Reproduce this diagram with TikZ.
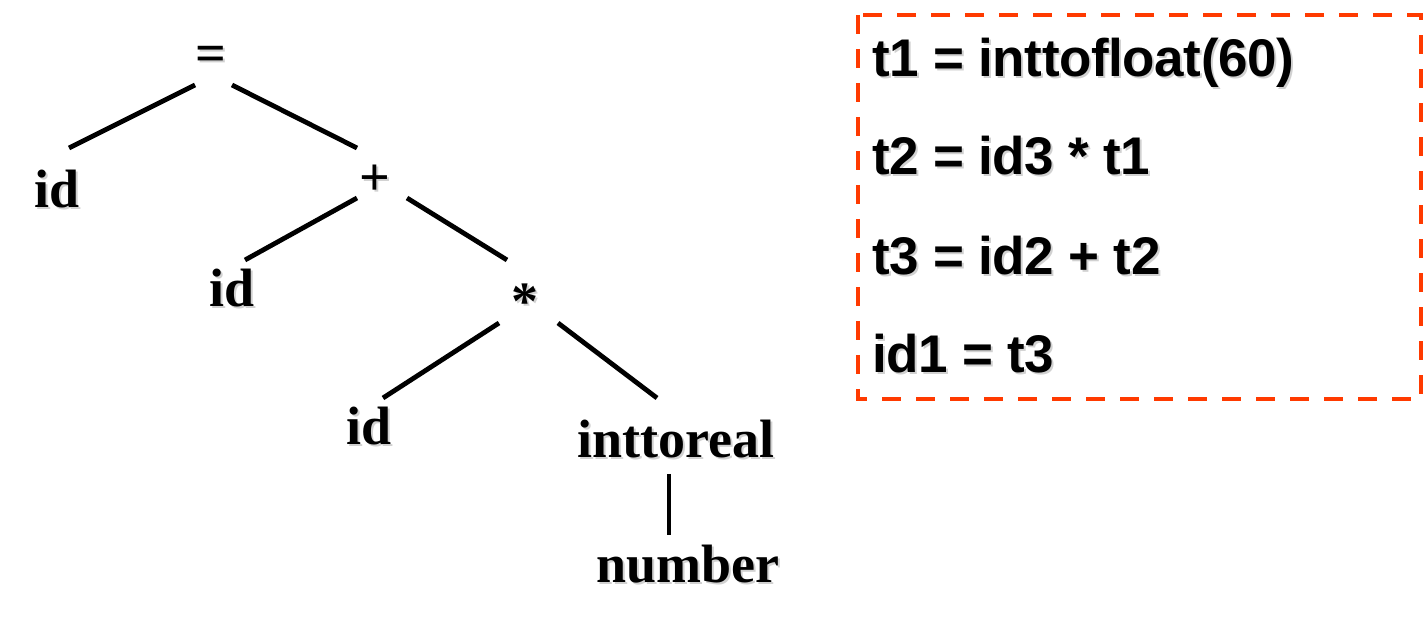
\documentclass[tikz,border=0pt]{standalone}
\usepackage{fontspec}
\usepackage{tikz}
\usetikzlibrary{calc,positioning}
\newfontfamily\treefont{Liberation Serif}
\newfontfamily\codefont[LetterSpace=-0.8]{Liberation Sans}
\definecolor{boxred}{RGB}{255,58,0}
% soft grey drop shadow under a text
\newcommand\shd[1]{\rlap{\kern1pt\raisebox{-1pt}{\textcolor{black!18}{#1}}}#1}

\begin{document}
\begin{tikzpicture}[x=0.5pt, y=-0.5pt,
	tree/.style={anchor=base, inner sep=0pt, font=\treefont\bfseries\fontsize{27}{32}\selectfont},
	code/.style={anchor=base west, inner sep=0pt, font=\codefont\bfseries\fontsize{26.5}{31}\selectfont},
	edge/.style={line width=2.4pt},
	codebox/.style={draw=boxred, line width=2pt, dash pattern=on 9.5pt off 7.5pt}]
		\useasboundingbox (0,0) rectangle (1423,635);
		% syntax tree
		\node[tree] (eq) at (211,72) {\shd{=}};
		\node[tree] (idA) at (57,208) {\shd{id}};
		\node[tree] (plus) at (375,196) {\shd{+}};
		\node[tree] (idB) at (232,307) {\shd{id}};
		\node[tree] (star) at (525,320) {\shd{*}};
		\node[tree] (idC) at (369,445) {\shd{id}};
		\node[tree] (conv) at (676,458) {\shd{inttoreal}};
		\node[tree] (num) at (688,582) {\shd{number}};
		\draw[edge] ([shift={(-16,13)}]eq.base) -- ([shift={(12,-60)}]idA.base);
		\draw[edge] ([shift={(21,13)}]eq.base) -- ([shift={(-18,-48)}]plus.base);
		\draw[edge] ([shift={(-18,2)}]plus.base) -- ([shift={(13,-47)}]idB.base);
		\draw[edge] ([shift={(32,2)}]plus.base) -- ([shift={(-18,-60)}]star.base);
		\draw[edge] ([shift={(-26,3)}]star.base) -- ([shift={(14,-47)}]idC.base);
		\draw[edge] ([shift={(33,3)}]star.base) -- ([shift={(-19,-60)}]conv.base);
		\draw[edge] ([shift={(-7,16)}]conv.base) -- ([shift={(-19,-47)}]num.base);
		% three address code
		\draw[codebox] (858,15) rectangle (1421,399);
		\node[code] (c1) at (872,77) {\shd{t1 = inttofloat(60)}};
		\node[code] (c2) at (872,175) {\shd{t2 = id3 * t1}};
		\node[code] (c3) at (872,275) {\shd{t3 = id2 + t2}};
		\node[code] (c4) at (872,373) {\shd{id1 = t3}};
	\end{tikzpicture}
\end{document}
